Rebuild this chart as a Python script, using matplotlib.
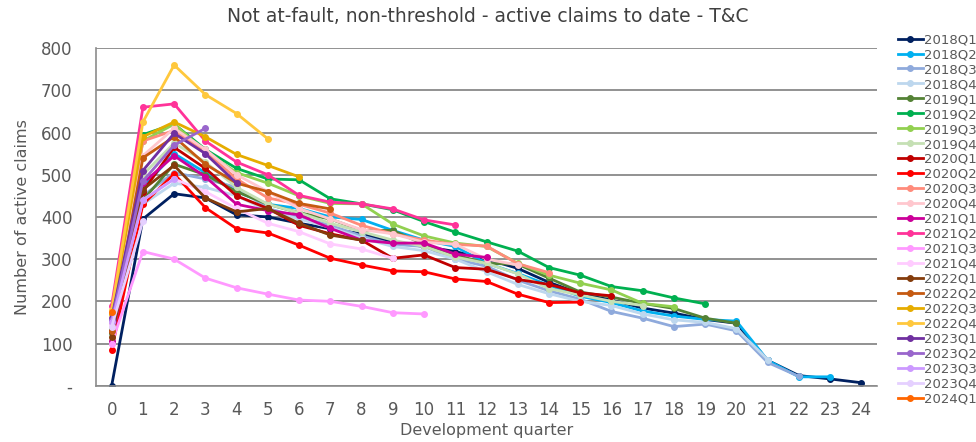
import matplotlib
matplotlib.use("Agg")
import matplotlib.pyplot as plt

# active claim counts by development quarter, one list per accident quarter
cohorts = ["2018Q1", "2018Q2", "2018Q3", "2018Q4",
           "2019Q1", "2019Q2", "2019Q3", "2019Q4",
           "2020Q1", "2020Q2", "2020Q3", "2020Q4",
           "2021Q1", "2021Q2", "2021Q3", "2021Q4",
           "2022Q1", "2022Q2", "2022Q3", "2022Q4",
           "2023Q1", "2023Q2", "2023Q3", "2023Q4", "2024Q1"]

q2018_1 = [0, 395, 455, 445, 405, 400, 385, 372, 360, 340, 330, 318, 300, 278, 245, 218, 203, 184, 172, 157, 148, 60, 24, 16, 7]
q2018_2 = [150, 470, 550, 505, 460, 430, 420, 400, 394, 368, 345, 330, 290, 266, 238, 212, 197, 177, 165, 157, 153, 60, 21, 21]
q2018_3 = [140, 450, 505, 490, 470, 420, 400, 380, 355, 335, 330, 300, 283, 250, 225, 205, 176, 160, 140, 146, 130, 55, 22]
q2018_4 = [145, 430, 480, 470, 450, 415, 395, 375, 350, 330, 320, 300, 270, 240, 218, 200, 190, 170, 156, 150, 135, 62]
q2019_1 = [125, 440, 525, 500, 460, 430, 410, 395, 368, 368, 335, 310, 290, 288, 255, 222, 210, 195, 183, 160, 148]
q2019_2 = [135, 595, 620, 560, 515, 490, 488, 443, 431, 417, 389, 364, 341, 319, 280, 262, 235, 225, 208, 194]
q2019_3 = [150, 580, 620, 555, 505, 480, 450, 432, 431, 383, 355, 338, 330, 290, 262, 243, 227, 195, 187]
q2019_4 = [140, 500, 575, 530, 470, 430, 410, 385, 365, 345, 330, 305, 290, 265, 230, 215, 200, 190]
q2020_1 = [130, 460, 565, 515, 450, 420, 380, 360, 345, 302, 310, 280, 276, 252, 240, 220, 213]
q2020_2 = [85, 430, 502, 422, 372, 362, 333, 302, 286, 272, 270, 253, 247, 217, 197, 198]
q2020_3 = [150, 580, 605, 555, 490, 445, 430, 409, 380, 360, 345, 335, 331, 289, 268]
q2020_4 = [160, 545, 610, 560, 500, 460, 420, 395, 370, 360, 340, 335, 300, 286]
q2021_1 = [105, 480, 545, 495, 430, 415, 405, 373, 345, 338, 338, 312, 304]
q2021_2 = [190, 660, 668, 580, 530, 500, 451, 435, 431, 419, 393, 381]
q2021_3 = [100, 318, 300, 255, 232, 217, 203, 200, 188, 173, 170]
q2021_4 = [145, 440, 490, 460, 420, 385, 365, 336, 324, 302]
q2022_1 = [115, 465, 522, 445, 412, 420, 385, 357, 345]
q2022_2 = [130, 540, 590, 525, 480, 460, 432, 419]
q2022_3 = [170, 590, 625, 590, 548, 522, 495]
q2022_4 = [180, 625, 760, 690, 645, 585]
q2023_1 = [160, 510, 598, 550, 480]
q2023_2 = [155, 485, 570, 610]
q2023_3 = [150, 440, 490]
q2023_4 = [140, 390]
q2024_1 = [175]

series = [q2018_1, q2018_2, q2018_3, q2018_4, q2019_1, q2019_2, q2019_3, q2019_4,
          q2020_1, q2020_2, q2020_3, q2020_4, q2021_1, q2021_2, q2021_3, q2021_4,
          q2022_1, q2022_2, q2022_3, q2022_4, q2023_1, q2023_2, q2023_3, q2023_4,
          q2024_1]

colors = ["#002060", "#00b0f0", "#8faadc", "#bdd7ee",
          "#548235", "#00b050", "#92d050", "#c5e0b4",
          "#c00000", "#ff0000", "#ff8b7b", "#ffc7ce",
          "#cc0099", "#ff3399", "#ff99ff", "#ffccff",
          "#843c0c", "#c55a11", "#e6ac00", "#ffc83d",
          "#7030a0", "#9966cc", "#cc99ff", "#e5d0ff", "#ff6600"]

grey = "#595959"
plt.rcParams["font.family"] = ["DejaVu Sans"]

fig = plt.figure(figsize=(9.76, 4.42), dpi=100)
ax = fig.add_axes([0.0984, 0.1274, 0.8002, 0.7636])

for name, vals, c in zip(cohorts, series, colors):
    ax.plot(range(len(vals)), vals, color=c, lw=2.0, marker="o", ms=4,
            label=name, solid_joinstyle="round")

ax.set_xlim(-0.5, 24.5)
ax.set_ylim(0, 800)
ax.set_xticks(range(25))
ax.set_yticks(range(0, 801, 100))
ax.set_yticklabels(["-"] + [str(v) for v in range(100, 801, 100)])
ax.tick_params(length=0, labelsize=12, colors=grey)
ax.tick_params(axis="y", pad=17)
ax.tick_params(axis="x", pad=11)
ax.grid(axis="y", color="#7f7f7f", lw=1.2)
ax.set_axisbelow(True)
for s in ["top", "right"]:
    ax.spines[s].set_visible(False)
for s in ["left", "bottom"]:
    ax.spines[s].set_color("#8c8c8c")
    ax.spines[s].set_linewidth(1.2)

ax.set_xlabel("Development quarter", fontsize=11.5, color=grey)
ax.set_ylabel("Number of active claims", fontsize=11.5, color=grey)
ax.xaxis.set_label_coords(0.5, -0.112)
ax.yaxis.set_label_coords(-0.085, 0.5)
fig.suptitle("Not at-fault, non-threshold - active claims to date - T&C",
             fontsize=13.5, color="#404040", x=0.5, y=0.985)

ax.legend(loc="upper left", bbox_to_anchor=(0.920, 0.925), bbox_transform=fig.transFigure,
          frameon=False, fontsize=9.5, labelcolor=grey, handlelength=1.9,
          handletextpad=0.1, labelspacing=0.15, borderaxespad=0, borderpad=0)

fig.savefig("out.png", dpi=100, facecolor="white")
